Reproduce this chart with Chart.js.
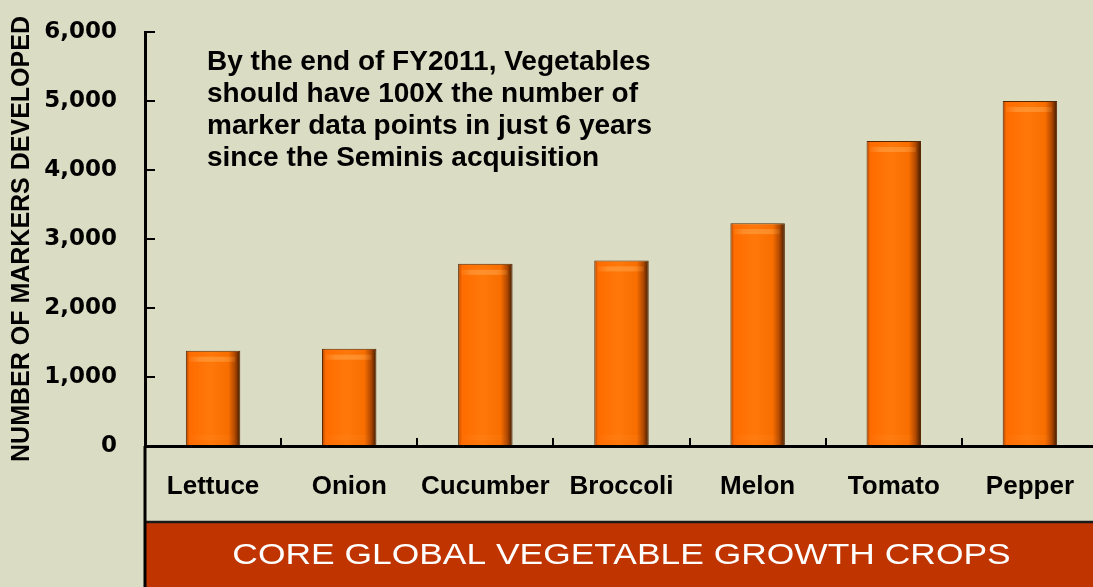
<!DOCTYPE html>
<html><head><meta charset="utf-8">
<script src="https://cdn.jsdelivr.net/npm/chart.js@4"></script>
<style>
html,body{margin:0;padding:0;overflow:hidden;background:#DBDCC4;width:1093px;height:587px}
#wrap{position:absolute;left:0;top:0;width:1100px;height:587px}
canvas{display:block}
</style></head><body><div id="wrap"><canvas id="c" width="1100" height="587"></canvas></div>
<script>
const categories = ['Lettuce','Onion','Cucumber','Broccoli','Melon','Tomato','Pepper'];
const markers = [1380,1410,2640,2690,3230,4420,5000];
const yTicks = [0,1000,2000,3000,4000,5000,6000];
const yTitle = 'NUMBER OF MARKERS DEVELOPED';
const noteLines = ['By the end of FY2011, Vegetables','should have 100X the number of','marker data points in just 6 years','since the Seminis acquisition'];
const bandText = 'CORE GLOBAL VEGETABLE GROWTH CROPS';

const BG = '#DBDCC4';
const BAND = '#C03400';
const SANS = '"Liberation Sans", Arial, sans-serif';

function barFill(ctx){
  const chart = ctx.chart;
  const xs = chart.scales.x;
  if (!xs || !chart.chartArea) return '#FF7000';
  const cx = xs.getPixelForValue(ctx.dataIndex);
  const w = (xs.width / categories.length) * 0.4;
  const g = chart.ctx.createLinearGradient(cx - w/2, 0, cx + w/2, 0);
  g.addColorStop(0, '#B04800');
  g.addColorStop(0.07, '#FF6C00');
  g.addColorStop(0.45, '#FF780A');
  g.addColorStop(0.78, '#F86E00');
  g.addColorStop(0.9, '#B04800');
  g.addColorStop(1, '#3E1A00');
  return g;
}

const deco = {
  id: 'deco',
  beforeDraw(chart){
    const c = chart.ctx;
    c.save(); c.fillStyle = BG; c.fillRect(0,0,chart.width,chart.height); c.restore();
  },
  afterDatasetsDraw(chart){
    const c = chart.ctx;
    const meta = chart.getDatasetMeta(0);
    c.save();
    meta.data.forEach(bar => {
      const p = bar.getProps(['x','y','base','width'], true);
      const l = p.x - p.width/2, r = p.x + p.width/2;
      const g = c.createLinearGradient(l, 0, r, 0);
      g.addColorStop(0, 'rgba(255,170,80,0)');
      g.addColorStop(0.25, 'rgba(255,170,80,0.7)');
      g.addColorStop(0.7, 'rgba(255,170,80,0.7)');
      g.addColorStop(1, 'rgba(255,170,80,0)');
      c.fillStyle = g;
      c.globalAlpha = 0.7;
      c.fillRect(l + 3, p.y + 6, p.width - 8, 5);
      c.globalAlpha = 0.12;
      c.fillRect(l + 3, p.base - 10, p.width - 8, 5);
    });
    c.restore();
  },
  afterDraw(chart){
    const c = chart.ctx;
    const {left, right, bottom} = chart.chartArea;
    const bandTop = bottom + 76;
    c.save();
    c.fillStyle = BAND;
    c.fillRect(left, bandTop, chart.width - left, chart.height - bandTop);
    c.strokeStyle = '#1a1a1a';
    c.lineWidth = 2.5;
    c.beginPath(); c.moveTo(left, bandTop); c.lineTo(chart.width, bandTop); c.stroke();
    c.strokeStyle = '#000';
    c.lineWidth = 3;
    c.beginPath(); c.moveTo(left, bottom); c.lineTo(left, chart.height); c.stroke();
    c.fillStyle = '#FFFFFF';
    c.font = '30px ' + SANS;
    c.textAlign = 'center';
    c.textBaseline = 'middle';
    c.translate((left + right)/2, bandTop + 34);
    c.scale(1.18, 1);
    c.fillText(bandText, 0, 0);
    c.restore();
    c.save();
    c.fillStyle = '#000';
    c.font = 'bold 28px ' + SANS;
    c.textAlign = 'left';
    c.textBaseline = 'alphabetic';
    noteLines.forEach((t, i) => c.fillText(t, 207, 69.5 + i * 32.2));
    c.restore();
  }
};

Chart.defaults.font.family = SANS;
Chart.defaults.color = '#000';

new Chart(document.getElementById('c'), {
  type: 'bar',
  data: {
    labels: categories,
    datasets: [{
      data: markers,
      backgroundColor: barFill,
      borderColor: '#5A2800',
      borderWidth: 1,
      categoryPercentage: 1,
      barPercentage: 0.4
    }]
  },
  options: {
    responsive: false,
    maintainAspectRatio: false,
    animation: false,
    devicePixelRatio: 1,
    layout: { padding: { top: 32, right: 2, left: 0, bottom: 0 } },
    plugins: { legend: { display: false }, tooltip: { enabled: false } },
    scales: {
      x: {
        grid: { drawOnChartArea: false, drawTicks: true, tickLength: -8, color: '#000', lineWidth: 2, offset: true },
        border: { display: true, color: '#000', width: 3 },
        ticks: { padding: 33, color: '#000', font: { family: SANS, size: 26, weight: 'bold' }, maxRotation: 0, autoSkip: false },
        afterFit(s){ s.height = 141; s.paddingLeft = 0; s.paddingRight = 0; }
      },
      y: {
        min: 0, max: 6000,
        afterBuildTicks(s){ s.ticks = yTicks.map(v => ({ value: v })); },
        grid: { drawOnChartArea: false, drawTicks: true, tickLength: -10, color: '#000', lineWidth: 2 },
        border: { display: true, color: '#000', width: 3 },
        ticks: { padding: 38, color: '#000', font: { family: '"DejaVu Sans", sans-serif', size: 23, weight: 'bold' },
                 callback: v => v.toLocaleString('en-US') },
        title: { display: true, text: yTitle, color: '#000', font: { family: SANS, size: 25, weight: 'bold' }, padding: { top: 7, bottom: 0 } },
        afterFit(s){ s.width = 145; s.paddingTop = 0; s.paddingBottom = 0; }
      }
    }
  },
  plugins: [deco]
});
</script></body></html>
